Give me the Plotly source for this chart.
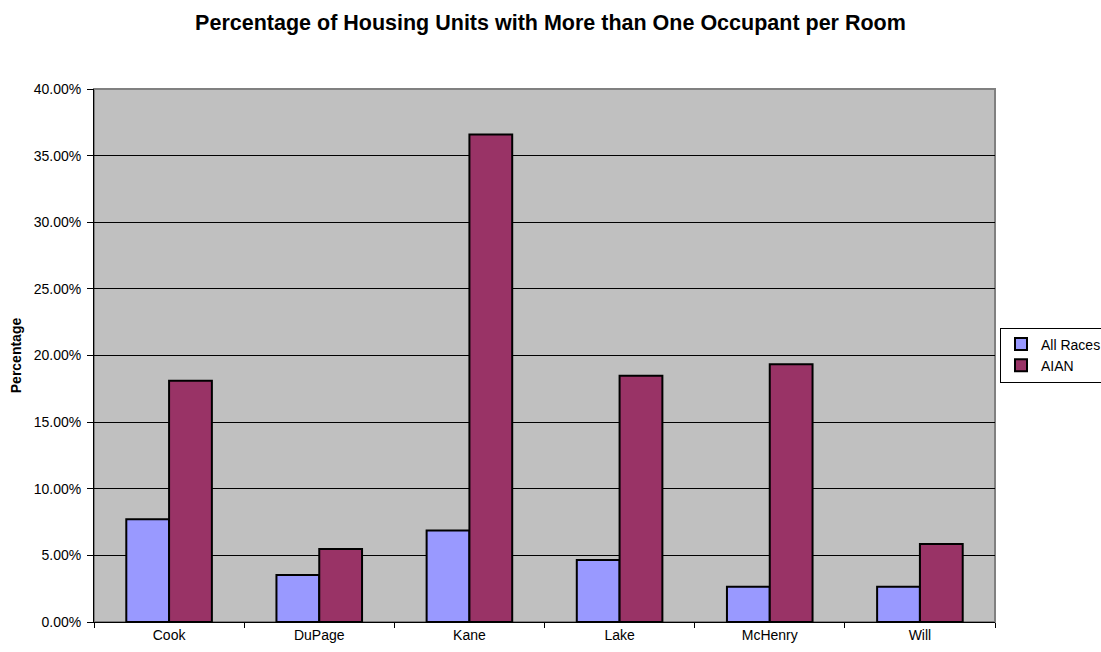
import plotly.graph_objects as go

counties = ["Cook", "DuPage", "Kane", "Lake", "McHenry", "Will"]
all_races = [0.0772, 0.0353, 0.0687, 0.0465, 0.0265, 0.0265]
aian = [0.1810, 0.0548, 0.3658, 0.1848, 0.1935, 0.0585]

fig = go.Figure()
fig.add_trace(go.Bar(x=counties, y=all_races, name="All Races",
                     marker=dict(color="#9999FF", line=dict(color="black", width=2))))
fig.add_trace(go.Bar(x=counties, y=aian, name="AIAN",
                     marker=dict(color="#993366", line=dict(color="black", width=2))))

font = "Liberation Sans, Arial, sans-serif"
fig.update_layout(
    width=1101, height=652,
    margin=dict(l=94, r=106, t=89, b=30, autoexpand=False),
    paper_bgcolor="white", plot_bgcolor="#C0C0C0",
    barmode="group", bargap=0.43, bargroupgap=0,
    font=dict(family=font, size=14, color="black"),
    title=dict(text="<b>Percentage of Housing Units with More than One Occupant per Room</b>",
               x=0.5, xanchor="center", y=0.966, yanchor="middle",
               font=dict(size=21.5, family=font, color="black")),
    showlegend=True,
    legend=dict(xref="container", yref="container", x=1000 / 1101, xanchor="left",
                y=1 - 355 / 652, yanchor="middle",
                bordercolor="black", borderwidth=1, bgcolor="white",
                font=dict(size=14, family=font), tracegroupgap=0),
    xaxis=dict(tickson="boundaries", ticks="outside", ticklen=5, tickcolor="black",
               showline=True, linecolor="black", linewidth=1, showgrid=False,
               tickfont=dict(size=14), fixedrange=True),
    yaxis=dict(range=[0, 0.40], dtick=0.05, tickformat=".2%", ticks="outside",
               ticklen=6, tickcolor="black", showline=True, linecolor="black",
               linewidth=1, showgrid=True, gridcolor="black", gridwidth=1,
               zeroline=False, tickfont=dict(size=14), ticklabelstandoff=3,
               fixedrange=True,
               title=dict(text="<b>Percentage</b>", font=dict(size=14), standoff=8)),
    shapes=[dict(type="rect", xref="paper", yref="paper", x0=0, x1=1, y0=0, y1=1,
                 line=dict(color="#808080", width=2), layer="below")],
)

fig.write_html("out.html", config={"displayModeBar": False},
               post_script="document.body.style.margin='0px';")
